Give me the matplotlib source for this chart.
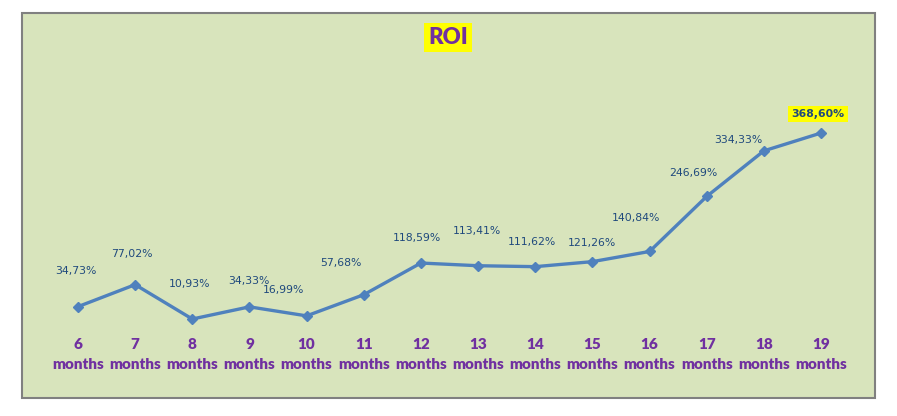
import matplotlib
matplotlib.use("Agg")
import matplotlib.pyplot as plt
from matplotlib.patches import Rectangle

months = ["6", "7", "8", "9", "10", "11", "12", "13", "14", "15", "16", "17", "18", "19"]
roi = [34.73, 77.02, 10.93, 34.33, 16.99, 57.68, 118.59, 113.41, 111.62, 121.26,
       140.84, 246.69, 334.33, 368.60]
roi_labels = ["34,73%", "77,02%", "10,93%", "34,33%", "16,99%", "57,68%", "118,59%",
              "113,41%", "111,62%", "121,26%", "140,84%", "246,69%", "334,33%", "368,60%"]
# label offsets (pixels) relative to points
label_dx = [-2, -3, -3, -1, -23, -23, -4, -1, -3, 0, -14, -13, -26, -3]
label_dy = [36, 31, 35, 26, 26, 32, 25, 35, 25, 19, 33, 23, 11, 19]

W, H = 897, 416
fig = plt.figure(figsize=(W / 100, H / 100), dpi=100)
fig.patch.set_facecolor("white")

bg = "#D8E4BC"
fig.patches.append(Rectangle((22 / W, 1 - 398 / H), 853 / W, 385 / H,
                             transform=fig.transFigure, facecolor=bg,
                             edgecolor="#808080", linewidth=1.5, zorder=-1))

ax = fig.add_axes([49.4 / W, 1 - 324.7 / H, 800.2 / W, 234 / H])
ax.set_zorder(2)
ax.set_facecolor("none")
for s in ax.spines.values():
    s.set_visible(False)

x = list(range(len(months)))
ax.plot(x, roi, color="#4F81BD", linewidth=2.4, marker="D", markersize=5.5,
        markerfacecolor="#4F81BD", markeredgecolor="#4F81BD", zorder=3, clip_on=False)
ax.set_xlim(-0.5, len(months) - 0.5)
ax.set_ylim(0, 450)
ax.set_xticks([])
ax.set_yticks([])

label_color = "#1F497D"
for i, (xi, yi, lab) in enumerate(zip(x, roi, roi_labels)):
    last = i == len(roi) - 1
    kw = dict(fontsize=7.8, color=label_color, ha="center", va="center",
              family="DejaVu Sans", annotation_clip=False)
    if last:
        kw.update(fontweight="bold",
                  bbox=dict(boxstyle="square,pad=0.3", facecolor="#FFFF00", edgecolor="none"))
    ax.annotate(lab, (xi, yi), xytext=(label_dx[i], label_dy[i]),
                textcoords="offset pixels", **kw)

purple = "#7030A0"
for xi, m in zip(x, months):
    ax.annotate(m, (xi, 0), xycoords=("data", "axes fraction"), xytext=(0, -19.5),
                textcoords="offset pixels", ha="center", va="center",
                fontsize=11, fontweight="heavy", color=purple, family="Lato",
                annotation_clip=False)
    ax.annotate("months", (xi, 0), xycoords=("data", "axes fraction"), xytext=(0, -39.5),
                textcoords="offset pixels", ha="center", va="center",
                fontsize=11, fontweight="heavy", color=purple, family="Lato",
                annotation_clip=False)

fig.text(448 / W, 1 - 37.5 / H, "ROI", ha="center", va="center", fontsize=16,
         fontweight="heavy", color=purple, family="Lato",
         bbox=dict(boxstyle="square,pad=0.2", facecolor="#FFFF00", edgecolor="none"))

fig.savefig("out.png", dpi=100, facecolor="white")
